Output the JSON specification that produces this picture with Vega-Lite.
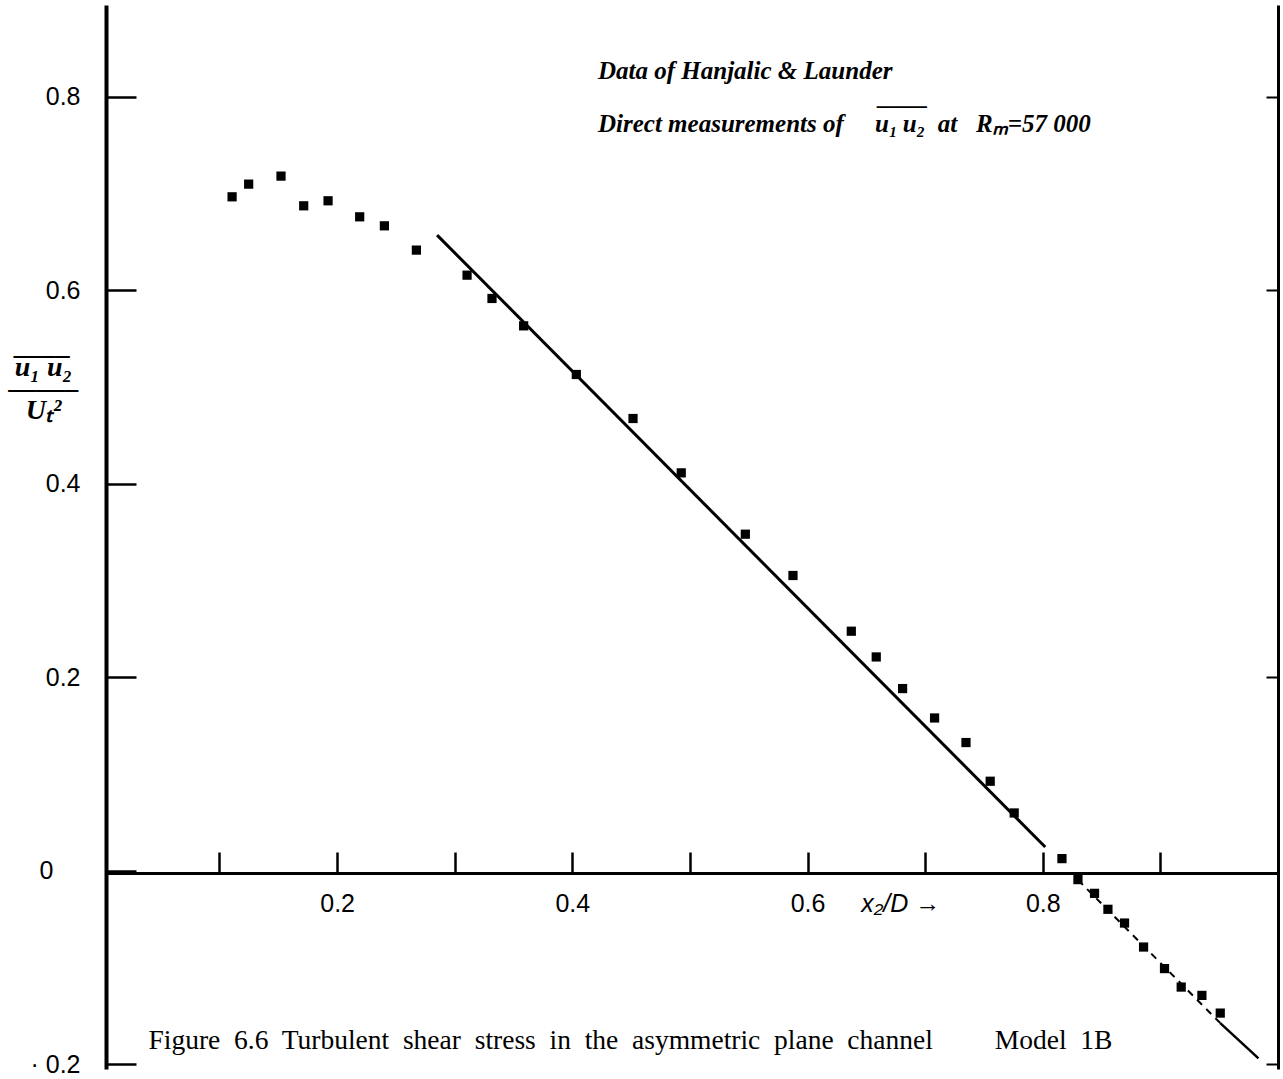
{
  "$schema": "https://vega.github.io/schema/vega-lite/v6.json",
  "width": 1172,
  "height": 1064,
  "autosize": {"type": "none"},
  "padding": {"left": 106, "top": 5, "right": 5, "bottom": 10},
  "background": "white",
  "config": {
    "view": {"stroke": null},
    "axis": {"domainColor": "black", "tickColor": "black", "labelColor": "black", "titleColor": "black", "grid": false}
  },
  "title": {
    "text": "Data of Hanjalic & Launder",
    "subtitle": "Direct measurements of\u00a0\u00a0\u00a0\u00a0 u\u2081\u2009u\u2082\u00a0 at\u00a0\u00a0 R\u2098=57 000",
    "anchor": "start",
    "frame": "group",
    "orient": "top",
    "dx": 492,
    "dy": 136,
    "font": "Liberation Serif",
    "fontSize": 25,
    "fontStyle": "italic",
    "fontWeight": "bold",
    "color": "black",
    "subtitleFont": "Liberation Serif",
    "subtitleFontSize": 25,
    "subtitleFontStyle": "italic",
    "subtitleFontWeight": "bold",
    "subtitleColor": "black",
    "subtitleLineHeight": 26,
    "subtitlePadding": 28
  },
  "datasets": {
    "points": [
      {"x": 0.1107, "y": 0.6967}, {"x": 0.1248, "y": 0.7098}, {"x": 0.1523, "y": 0.7181},
      {"x": 0.1716, "y": 0.6874}, {"x": 0.1923, "y": 0.6926}, {"x": 0.2192, "y": 0.6760},
      {"x": 0.2402, "y": 0.6667}, {"x": 0.2674, "y": 0.6416}, {"x": 0.3105, "y": 0.6157},
      {"x": 0.3317, "y": 0.5916}, {"x": 0.3586, "y": 0.5633}, {"x": 0.4034, "y": 0.5130},
      {"x": 0.4516, "y": 0.4675}, {"x": 0.4926, "y": 0.4113}, {"x": 0.5471, "y": 0.3479},
      {"x": 0.5876, "y": 0.3052}, {"x": 0.6372, "y": 0.2476}, {"x": 0.6584, "y": 0.2210},
      {"x": 0.6808, "y": 0.1883}, {"x": 0.7080, "y": 0.1579}, {"x": 0.7347, "y": 0.1325},
      {"x": 0.7553, "y": 0.0925}, {"x": 0.7757, "y": 0.0597}, {"x": 0.8163, "y": 0.0125},
      {"x": 0.8299, "y": -0.0092}, {"x": 0.8440, "y": -0.0234}, {"x": 0.8554, "y": -0.0399},
      {"x": 0.8695, "y": -0.0541}, {"x": 0.8857, "y": -0.0789}, {"x": 0.9035, "y": -0.1012},
      {"x": 0.9177, "y": -0.1203}, {"x": 0.9353, "y": -0.1289}, {"x": 0.9509, "y": -0.1472}
    ],
    "fitA": [{"x": 0.2850, "y": 0.6571}, {"x": 0.8021, "y": 0.0245}],
    "fitB": [{"x": 0.8299, "y": -0.0095}, {"x": 0.9509, "y": -0.1575}],
    "fitC": [{"x": 0.9509, "y": -0.1575}, {"x": 0.9834, "y": -0.1940}]
  },
  "layer": [
    {
      "data": {"name": "points"},
      "mark": {"type": "point", "shape": "square", "filled": true, "color": "black", "size": 85, "opacity": 1},
      "encoding": {
        "x": {
          "field": "x", "type": "quantitative",
          "scale": {"domain": [0.0035, 1.0], "nice": false, "zero": false},
          "axis": {
            "orient": "top", "offset": -868,
            "values": [0.1, 0.2, 0.3, 0.4, 0.5, 0.6, 0.7, 0.8, 0.9],
            "domainWidth": 3, "tickSize": 21, "tickWidth": 2.5,
            "labelExpr": "datum.value == 0.7 ? 'x\u2082/D \u2192' : ((datum.value == 0.2 || datum.value == 0.4 || datum.value == 0.6 || datum.value == 0.8) ? format(datum.value, '.1f') : '')",
            "labelFont": "Liberation Sans", "labelFontSize": 25, "labelPadding": -39, "labelBaseline": "top",
            "labelOverlap": false, "labelFlush": false,
            "labelFontStyle": {"condition": {"test": "datum.value == 0.7", "value": "italic"}, "value": "normal"},
            "labelOffset": {"condition": {"test": "datum.value == 0.7", "value": -25}, "value": 0},
            "title": "Figure\u00a0 6.6\u00a0 Turbulent\u00a0 shear\u00a0 stress\u00a0 in\u00a0 the\u00a0 asymmetric\u00a0 plane\u00a0 channel\u00a0\u00a0\u00a0\u00a0\u00a0\u00a0\u00a0\u00a0 Model\u00a0 1B",
            "titleFont": "Liberation Serif", "titleFontSize": 27.5, "titleFontWeight": "normal",
            "titleAnchor": "start", "titleAlign": "left", "titleX": 42, "titleY": 175, "titleBaseline": "alphabetic", "titleAngle": 0
          }
        },
        "y": {
          "field": "y", "type": "quantitative",
          "scale": {"domain": [-0.205, 0.895], "nice": false, "zero": false},
          "axis": {
            "orient": "right", "offset": -1172,
            "values": [-0.2, 0, 0.2, 0.4, 0.6, 0.8],
            "domainWidth": 4, "tickSize": 30, "tickWidth": 2.5,
            "labelExpr": "datum.value == 0 ? '0' : (datum.value < 0 ? '\u00b7 0.2' : format(datum.value, '.1f'))",
            "labelFont": "Liberation Sans", "labelFontSize": 25,
            "labelPadding": {"condition": {"test": "datum.value == 0", "value": -83}, "value": -56},
            "labelOverlap": false, "labelFlush": false, "labelBaseline": "middle", "labelAlign": "right",
            "title": ["____", "u\u2081 u\u2082", "\u2014\u2014\u2013", "U\u209c\u00b2"],
            "titleAngle": 0, "titleAlign": "center", "titleBaseline": "alphabetic",
            "titleX": -63, "titleY": 348.5, "titleLineHeight": 21.5,
            "titleFont": "Liberation Serif", "titleFontSize": 28, "titleFontStyle": "italic", "titleFontWeight": "bold"
          }
        }
      }
    },
    {
      "data": {"name": "fitA"},
      "mark": {"type": "line", "color": "black", "strokeWidth": 3},
      "encoding": {
        "x": {"field": "x", "type": "quantitative", "axis": null},
        "y": {"field": "y", "type": "quantitative", "axis": null}
      }
    },
    {
      "data": {"name": "fitB"},
      "mark": {"type": "line", "color": "black", "strokeWidth": 2, "strokeDash": [7, 6]},
      "encoding": {
        "x": {"field": "x", "type": "quantitative", "axis": null},
        "y": {
          "field": "y", "type": "quantitative",
          "axis": {
            "orient": "left", "offset": -1172, "values": [-0.2, 0.2, 0.6, 0.8],
            "domainWidth": 3, "tickSize": 12, "tickWidth": 2,
            "labels": false,
            "title": "____",
            "titleAngle": 0, "titleAlign": "left", "titleBaseline": "alphabetic",
            "titleX": -400, "titleY": 98,
            "titleFont": "Liberation Serif", "titleFontSize": 25, "titleFontStyle": "italic", "titleFontWeight": "bold"
          }
        }
      }
    },
    {
      "data": {"name": "fitC"},
      "mark": {"type": "line", "color": "black", "strokeWidth": 2.5},
      "encoding": {
        "x": {"field": "x", "type": "quantitative", "axis": null},
        "y": {"field": "y", "type": "quantitative", "axis": null}
      }
    }
  ],
  "resolve": {"axis": {"x": "independent", "y": "independent"}}
}
